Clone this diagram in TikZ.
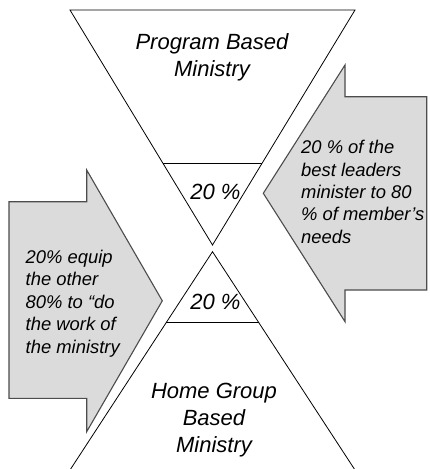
\documentclass[tikz,border=0pt]{standalone}
\usepackage{fontspec}
\setmainfont{Liberation Sans}
\begin{document}
\begin{tikzpicture}[x=1pt,y=-1pt,
  tri/.style={draw=black,line width=0.8pt,line join=miter},
  callout/.style={draw=black!70,fill=black!14,line width=1.1pt,line join=miter},
  bigtext/.style={font=\fontsize{22}{27}\selectfont\itshape,align=center,inner sep=0pt},
  smalltext/.style={font=\fontsize{18.4}{22.4}\selectfont\itshape,align=left,inner sep=0pt,anchor=west}]
\useasboundingbox (0,0) rectangle (430,469);
\clip (0,0) rectangle (430,469);
% left callout arrow (pointing right)
\draw[callout] (9,201.7) -- (86.7,201.7) -- (86.7,170) -- (162.3,300.8) -- (86.7,431.7) -- (86.7,398.3) -- (9,398.3) -- cycle;
% right callout arrow (pointing left)
\draw[callout] (426.7,96.7) -- (345,96.7) -- (345,65) -- (263.3,193.3) -- (345,321.7) -- (345,290) -- (426.7,290) -- cycle;
% top triangle
\draw[tri] (70,10) -- (355,10) -- (212.5,245) -- cycle;
\draw[tri] (162.8,163.3) -- (262.2,163.3);
% bottom triangle
\draw[tri] (70,470) -- (212.5,251.7) -- (355,470);
\draw[tri] (166,322.3) -- (259,322.3);
% texts
\node[bigtext] (top) at (212,57) {Program Based\\Ministry};
\node[bigtext] (t20) at (215.5,192) {20 \%};
\node[bigtext] (b20) at (215.5,301.5) {20 \%};
\node[bigtext] (bot) at (214,420.5) {Home Group\\Based\\Ministry};
\node[smalltext] (rt) at (301,192) {20 \% of the\\best leaders\\minister to 80\\\% of member’s\\needs};
\node[smalltext] (lt) at (25.5,303.5) {20\% equip\\the other\\80\% to “do\\the work of\\the ministry};
\end{tikzpicture}
\end{document}
